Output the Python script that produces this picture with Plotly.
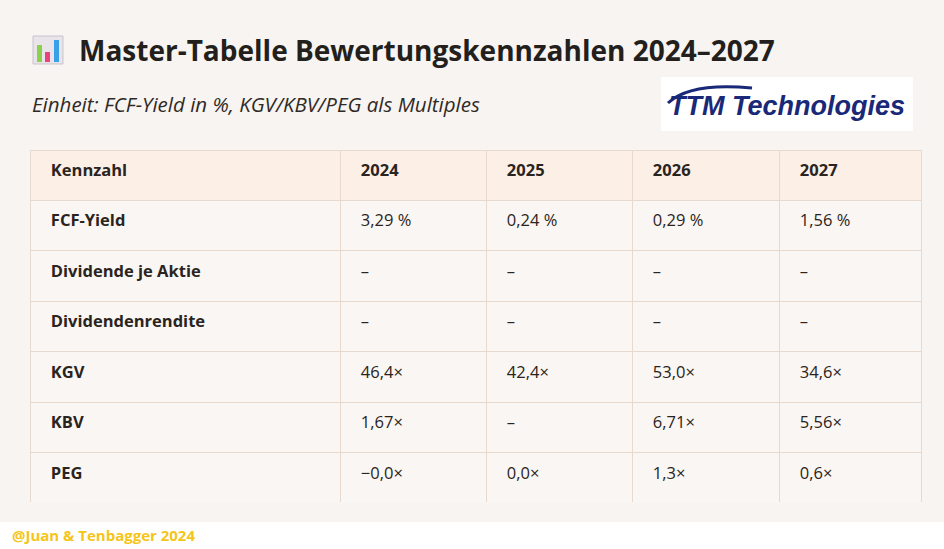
import plotly.graph_objects as go

W, H = 944, 549

columns = ["Kennzahl", "2024", "2025", "2026", "2027"]
kennzahlen = ["FCF-Yield", "Dividende je Aktie", "Dividendenrendite", "KGV", "KBV", "PEG"]
werte_2024 = ["3,29 %", "–", "–", "46,4×", "1,67×", "−0,0×"]
werte_2025 = ["0,24 %", "–", "–", "42,4×", "–", "0,0×"]
werte_2026 = ["0,29 %", "–", "–", "53,0×", "6,71×", "1,3×"]
werte_2027 = ["1,56 %", "–", "–", "34,6×", "5,56×", "0,6×"]

title = "Master-Tabelle Bewertungskennzahlen 2024–2027"
subtitle = "Einheit: FCF-Yield in %, KGV/KBV/PEG als Multiples"
footer = "@Juan & Tenbagger 2024"

FONT = "Open Sans, Noto Sans, sans-serif"
LINE = "#e8d9cf"
PAD = "&nbsp;&nbsp;&nbsp;"


def px(x):
    return x / W


def py(y):
    return 1 - y / H


def plain(vals):
    return [f"<span>{PAD}{v}</span>" for v in vals]


fig = go.Figure()

fig.add_trace(go.Table(
    domain=dict(x=[px(30), px(921)], y=[py(503), py(150)]),
    columnwidth=[310, 146, 146, 147, 142],
    header=dict(
        values=[f"<b>{PAD}{c}</b>" for c in columns],
        fill_color="#fcefe6",
        line_color=LINE,
        align="left",
        height=50,
        font=dict(family=FONT, size=16.5, color="#2a2420"),
    ),
    cells=dict(
        values=[[f"<b>{PAD}{k}</b>" for k in kennzahlen],
                plain(werte_2024), plain(werte_2025), plain(werte_2026), plain(werte_2027)],
        fill_color="#faf6f3",
        line_color=LINE,
        align="left",
        height=50.5,
        font=dict(family=FONT, size=16.5, color="#2a2420"),
    ),
))

shapes = [
    # white footer strip
    dict(type="rect", xref="paper", yref="paper", x0=0, x1=1, y0=0, y1=py(522),
         fillcolor="white", line_width=0, layer="below"),
    # logo box
    dict(type="rect", xref="paper", yref="paper", x0=px(661), x1=px(913),
         y0=py(131), y1=py(77), fillcolor="white", line_width=0),
    # logo swoosh
    dict(type="path", xref="paper", yref="paper",
         path=f"M {px(668)},{py(103)} Q {px(690)},{py(82)} {px(752)},{py(88)}",
         line=dict(color="#1a2878", width=3)),
    # chart icon
    dict(type="rect", xref="paper", yref="paper", x0=px(33), x1=px(63),
         y0=py(64), y1=py(36), fillcolor="#e8e4ea", line=dict(color="#c9c4cc", width=1)),
    dict(type="rect", xref="paper", yref="paper", x0=px(37), x1=px(42),
         y0=py(62), y1=py(45), fillcolor="#8cd14b", line_width=0),
    dict(type="rect", xref="paper", yref="paper", x0=px(45), x1=px(50),
         y0=py(62), y1=py(52), fillcolor="#e8437a", line_width=0),
    dict(type="rect", xref="paper", yref="paper", x0=px(54), x1=px(59),
         y0=py(62), y1=py(40), fillcolor="#3aa0e8", line_width=0),
]

annotations = [
    dict(text=f"<b>{title}</b>", x=px(77), y=py(50), xanchor="left", yanchor="middle",
         showarrow=False, font=dict(family=FONT, size=28, color="#231f1c")),
    dict(text=f"<i>{subtitle}</i>", x=px(30), y=py(104), xanchor="left", yanchor="middle",
         showarrow=False, font=dict(family=FONT, size=20.5, color="#2f2a26")),
    dict(text="<b><i>TTM Technologies</i></b>", x=px(787), y=py(106), xanchor="center",
         yanchor="middle", showarrow=False,
         font=dict(family="Liberation Sans Narrow, Arial Narrow, sans-serif", size=27, color="#1a2878")),
    dict(text=f"<b>{footer}</b>", x=px(10), y=py(535), xanchor="left", yanchor="middle",
         showarrow=False, font=dict(family=FONT, size=15, color="#f5c518")),
]

fig.update_layout(
    width=W, height=H,
    margin=dict(l=0, r=0, t=0, b=0),
    paper_bgcolor="#f8f4f1",
    plot_bgcolor="#f8f4f1",
    shapes=shapes,
    annotations=annotations,
)

fig.write_html(
    "out.html",
    config={"displayModeBar": False},
    post_script="document.body.style.margin='0';document.body.style.overflow='hidden';",
)
